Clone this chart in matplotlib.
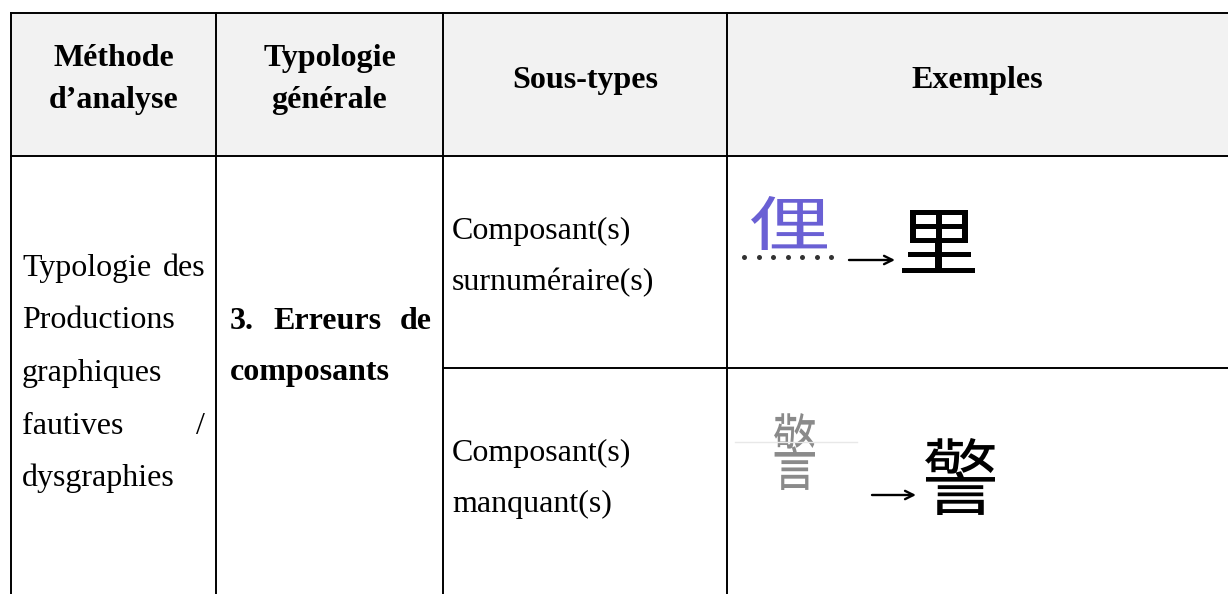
import matplotlib
matplotlib.use('Agg')
import numpy as np
import matplotlib.pyplot as plt
from matplotlib.patches import Rectangle, PathPatch
from matplotlib.textpath import TextPath
from matplotlib.font_manager import FontProperties
from matplotlib.transforms import Affine2D

SERIF = 'Liberation Serif'
CJK = 'Noto Sans CJK TC'

# table content
header_labels = [['Méthode', 'd’analyse'], ['Typologie', 'générale'],
                 ['Sous-types'], ['Exemples']]
method_lines = ['Typologie des', 'Productions', 'graphiques', 'fautives /', 'dysgraphies']
method_justify = [True, False, False, True, False]
typology_lines = ['3. Erreurs de', 'composants']
typology_justify = [True, False]
subtypes = [['Composant(s)', 'surnuméraire(s)'], ['Composant(s)', 'manquant(s)']]
written_chars = ['俚', '警']     # what the learner wrote
target_chars = ['里', '警']      # the expected character
written_colors = ['#6a60d4', '#8a8a8a']

# layout (pixels, y goes down)
W, H = 1228, 594
cols = [11, 216, 443, 727, W]
top, head_bot, mid_row = 13, 156, 368
FS = 23

fig = plt.figure(figsize=(W / 100, H / 100), dpi=100)
ax = fig.add_axes([0, 0, 1, 1])
ax.set_xlim(0, W)
ax.set_ylim(H, 0)
ax.axis('off')
renderer = fig.canvas.get_renderer()

# header shading + borders
ax.add_patch(Rectangle((cols[0], top), W - cols[0], head_bot - top,
                       fc='#f2f2f2', ec='none', zorder=0))
lw = 1.4
ax.plot([cols[0], W], [top, top], c='k', lw=lw)
ax.plot([cols[0], W], [head_bot, head_bot], c='k', lw=lw)
ax.plot([cols[2], W], [mid_row, mid_row], c='k', lw=lw)
for x in cols[:4]:
    ax.plot([x, x], [top, H], c='k', lw=lw)


def put_line(txt, x0, x1, y, bold=False, justify=False):
    kw = dict(fontsize=FS, family=SERIF, va='baseline',
              fontweight='bold' if bold else 'normal')
    words = txt.split()
    if not justify or len(words) < 2:
        ax.text(x0, y, txt, ha='left', **kw)
        return
    objs = [ax.text(0, y, w, ha='left', **kw) for w in words]
    widths = [o.get_window_extent(renderer).width for o in objs]
    gap = (x1 - x0 - sum(widths)) / (len(words) - 1)
    x = x0
    for o, w in zip(objs, widths):
        o.set_x(x)
        x += w + gap


# header
for i, lines in enumerate(header_labels):
    cx = (cols[i] + cols[i + 1]) / 2
    ys = [66, 108] if len(lines) == 2 else [88]
    for txt, y in zip(lines, ys):
        ax.text(cx, y, txt, ha='center', va='baseline', fontsize=FS,
                family=SERIF, fontweight='bold')

# first column
for k, (txt, j) in enumerate(zip(method_lines, method_justify)):
    put_line(txt, cols[0] + 11, cols[1] - 11, 276 + 52.5 * k, justify=j)

# second column
for k, (txt, j) in enumerate(zip(typology_lines, typology_justify)):
    put_line(txt, cols[1] + 14, cols[2] - 11, 329 + 51 * k, bold=True, justify=j)

# sub-types
for lines, y0 in zip(subtypes, [239, 461]):
    for k, txt in enumerate(lines):
        put_line(txt, cols[2] + 9, cols[3], y0 + 51 * k)


def glyph(ch, box, color, weight='regular'):
    x0, y0, x1, y1 = box
    tp = TextPath((0, 0), ch, size=100, prop=FontProperties(family=CJK, weight=weight))
    ext = tp.get_extents()
    tr = (Affine2D().translate(-ext.x0, -ext.y1)
          .scale((x1 - x0) / ext.width, -(y1 - y0) / ext.height)
          .translate(x0, y0))
    ax.add_patch(PathPatch(tr.transform_path(tp), fc=color, ec='none', lw=0))


# examples
written_boxes = [(751, 196, 827, 250), (774, 413, 815, 490)]
target_boxes = [(902, 210, 975, 273), (925, 438, 995, 515)]
arrows = [((849, 260), (895, 260)), ((872, 495), (916, 495))]
for ch, c, b in zip(written_chars, written_colors, written_boxes):
    glyph(ch, b, c, weight='light')
for ch, b in zip(target_chars, target_boxes):
    glyph(ch, b, 'black')
for start, end in arrows:
    ax.annotate('', xy=end, xytext=start,
                arrowprops=dict(arrowstyle='->,head_length=0.6,head_width=0.3',
                                lw=1.7, color='k', shrinkA=0, shrinkB=0))

# dotted mark under the written 俚, faint scan line near the written 警
ax.plot(np.linspace(744, 831, 7), [257] * 7, 'o', ms=3.6, c='#333333', mec='none')
ax.plot([735, 857], [442, 442], c='#e8e8e8', lw=1)

fig.savefig('out.png', dpi=100, facecolor='white')
